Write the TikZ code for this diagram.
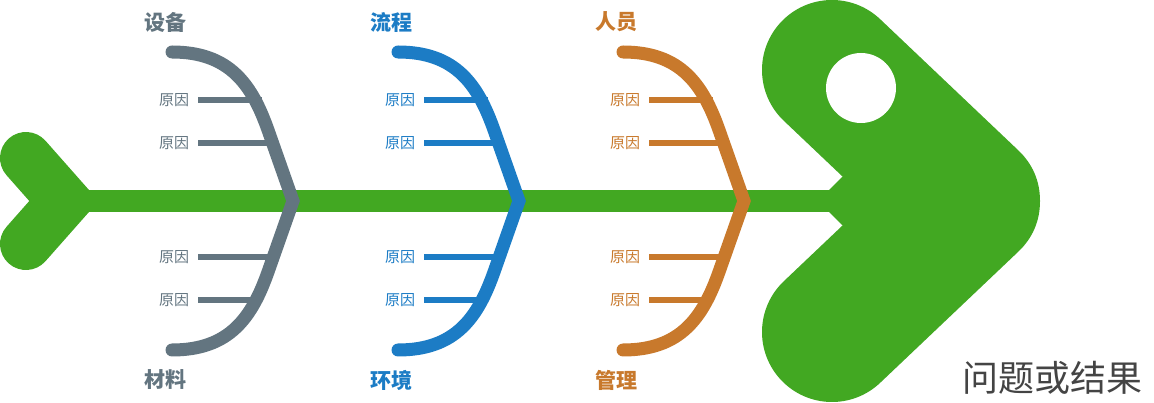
\documentclass[tikz,border=0pt]{standalone}
\usepackage{fontspec}
\setmainfont{Noto Sans CJK SC}
\definecolor{fishGreen}{HTML}{42A822}
\definecolor{boneGray}{HTML}{637580}
\definecolor{boneBlue}{HTML}{1C7CC5}
\definecolor{boneOrange}{HTML}{C8792C}
\definecolor{textDark}{HTML}{444444}
\tikzset{
  bone/.style={line width=13pt,line cap=round,line join=miter},
  twig/.style={line width=6pt},
  cause/.style={font=\fontsize{15}{18}\selectfont,inner sep=1pt},
  title/.style={font=\fontsize{21}{24}\selectfont\bfseries},
}
\begin{document}
\begin{tikzpicture}[x=1pt,y=-1pt]
\useasboundingbox (0,0) rectangle (1154,403);
% spine, tail and head
\draw[fishGreen,line width=22pt] (60,201) -- (835,201);
\draw[fishGreen,line width=52pt,line cap=round,line join=miter] (26,158) -- (64,201) -- (26,244);
\draw[fishGreen,line width=140pt,line cap=round,line join=round] (832,70) -- (970,201) -- (832,332);
\fill[fishGreen] (818,201) -- (900,119) -- (900,283) -- cycle;
\fill[white] (861,88) circle (35);
\node[font=\fontsize{36}{42}\selectfont,text=textDark] (result) at (1052,378) {问题或结果};
% bones
\foreach \c/\dx/\tname/\bname/\i in {boneGray/0/设备/材料/1,boneBlue/226/流程/环境/2,boneOrange/451/人员/管理/3} {
  \begin{scope}[xshift=\dx]
    \node[cause,text=\c] (c\i a) at (174,100) {原因};
    \node[cause,text=\c] (c\i b) at (174,143) {原因};
    \node[cause,text=\c] (c\i c) at (174,257) {原因};
    \node[cause,text=\c] (c\i d) at (174,300) {原因};
    \coordinate (t\i a) at (262,100);
    \coordinate (t\i b) at (278,143);
    \coordinate (t\i c) at (278,257);
    \coordinate (t\i d) at (262,300);
    \foreach \k in {a,b,c,d} {
      \draw[twig,\c] (c\i\k.east) ++(8,0) -- (t\i\k);
    }
    \draw[bone,\c] (172,52) .. controls (230,52) and (252,85) .. (268,130)
      -- (293,201) -- (268,272) .. controls (252,317) and (230,350) .. (172,350);
    \node[title,text=\c] (top\i) at (165,22) {\tname};
    \node[title,text=\c] (bot\i) at (165,380) {\bname};
  \end{scope}
}
\end{tikzpicture}
\end{document}
